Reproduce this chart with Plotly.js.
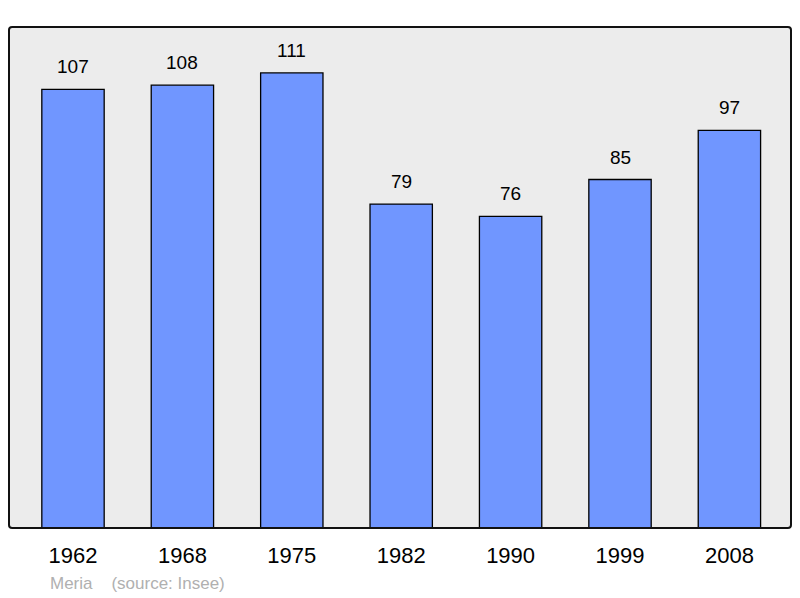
<!DOCTYPE html>
<html>
<head>
<meta charset="utf-8">
<script src="https://cdn.plot.ly/plotly-3.0.1.min.js"></script>
<style>
  html, body { margin: 0; padding: 0; background: #fff; }
  #plot { width: 800px; height: 598px; }
</style>
</head>
<body>
<div id="plot"></div>
<script>
// population by census year
let years = ['1962', '1968', '1975', '1982', '1990', '1999', '2008'];
let population = [107, 108, 111, 79, 76, 85, 97];

let fontFamily = 'Liberation Sans, Arial, sans-serif';

let barTrace = {
  type: 'bar',
  x: years,
  y: population,
  width: 0.57,
  marker: {
    color: '#7096ff',
    line: { color: '#000', width: 1.3 }
  },
  hoverinfo: 'none'
};

// value labels above each bar
let valueLabels = population.map((value, i) => ({
  xref: 'x', yref: 'y',
  x: i,
  y: value,
  text: String(value),
  showarrow: false,
  xanchor: 'center',
  yanchor: 'bottom',
  yshift: 10,
  font: { family: fontFamily, size: 19, color: '#000' }
}));

let sourceNote = {
  xref: 'paper', yref: 'paper',
  x: 0.05, y: -0.11,
  xanchor: 'left', yanchor: 'middle',
  text: 'Meria&nbsp;&nbsp;&nbsp;&nbsp;(source: Insee)',
  showarrow: false,
  font: { family: fontFamily, size: 17, color: '#b0b0b0' }
};

let layout = {
  width: 800,
  height: 598,
  margin: { l: 9, r: 9, t: 27, b: 70 },
  paper_bgcolor: '#fff',
  plot_bgcolor: '#ececec',
  showlegend: false,
  xaxis: {
    type: 'category',
    range: [-0.585, 6.563],
    showgrid: false,
    zeroline: false,
    showline: false,
    ticks: '',
    tickfont: { family: fontFamily, size: 22, color: '#000' },
    ticklabelstandoff: 12
  },
  yaxis: {
    range: [0, 122.2],
    showgrid: false,
    zeroline: false,
    showline: false,
    showticklabels: false,
    ticks: ''
  },
  annotations: valueLabels.concat([sourceNote]),
  shapes: [{
    type: 'path',
    xref: 'paper', yref: 'paper',
    path: 'M 0.004,0 L 0.996,0 Q 1,0 1,0.006 L 1,0.994 Q 1,1 0.996,1 L 0.004,1 Q 0,1 0,0.994 L 0,0.006 Q 0,0 0.004,0 Z',
    line: { color: '#111', width: 2 },
    layer: 'above'
  }]
};

Plotly.newPlot('plot', [barTrace], layout, { staticPlot: true });
</script>
</body>
</html>
